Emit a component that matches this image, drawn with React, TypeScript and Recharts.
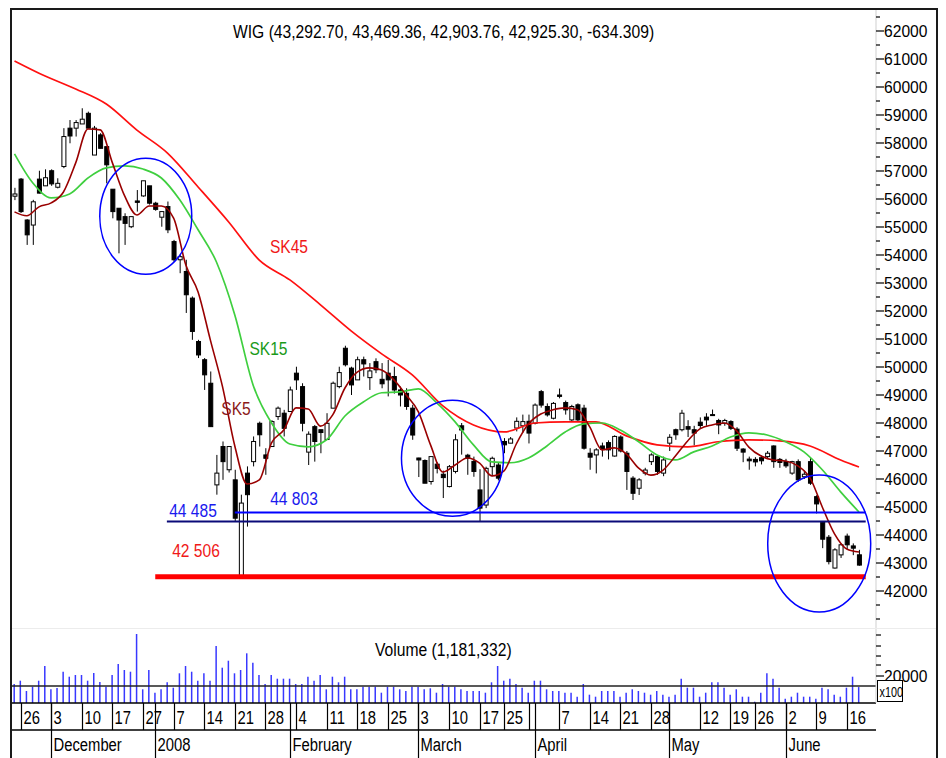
import React from 'react';
import { ComposedChart, Bar, Line, XAxis, YAxis, ReferenceLine, ReferenceDot } from 'recharts';

const FONT = '"Liberation Sans", Arial, Helvetica, sans-serif';

// ---- daily OHLC, WIG, 23 Nov 2007 .. 18 Jun 2008 (trading-day index 0..138) ----
const OPEN = [
  56100, 56710, 55250, 55070, 56710, 56470, 57010, 56420, 57160, 58530,
  58530, 58680, 59060, 57570, 58290, 57870, 56350, 55670, 55370, 55010,
  55930, 56110, 56470, 55850, 55350, 55730, 54480, 53830, 53410, 52460,
  50910, 50260, 49420, 45790, 47160, 46330, 45970, 42550, 46210, 46620,
  47990, 46860, 47160, 48230, 48350, 48410, 49780, 49300, 46960, 47870,
  47760, 47410, 48530, 49300, 50670, 49960, 49540, 50260, 49620, 50190,
  49560, 49780, 49660, 49180, 49060, 48530, 46750, 46660, 45910, 46530,
  46170, 45730, 46270, 47900, 46850, 46630, 45610, 45070, 46440, 46500,
  47340, 47280, 47820, 47900, 48060, 47990, 49120, 48590, 48170, 49000,
  48730, 48110, 48650, 48530, 46920, 46860, 47180, 47300, 46820, 47500,
  46920, 46030, 45670, 46210, 46620, 46800, 46210, 47280, 47760, 47760,
  47870, 47760, 48030, 48210, 48300, 48090, 47990, 48050, 47780, 47070,
  46710, 46700, 46760, 46800, 47180, 46700, 46620, 46210, 46620, 46080,
  46620, 45370, 44450, 43920, 42820, 43290, 43960, 43610, 43292.7,
];
const HIGH = [
  56400, 56750, 55280, 55970, 57010, 57060, 57060, 56740, 58530, 58820,
  58820, 59240, 59120, 58610, 58350, 57870, 56350, 55670, 55490, 55370,
  56320, 56650, 56470, 55900, 55550, 55910, 54540, 54000, 53830, 52520,
  50970, 50320, 49840, 46860, 47340, 47160, 46330, 45440, 46450, 47520,
  48050, 47100, 48100, 48590, 48470, 49300, 50010, 49420, 47700, 47930,
  47760, 48350, 49480, 50010, 50760, 50010, 50370, 50370, 50140, 50310,
  50140, 50250, 50010, 49300, 49240, 48650, 46760, 46700, 46800, 46600,
  46300, 46500, 47600, 48000, 46900, 46800, 46350, 46440, 46800, 46600,
  47460, 47500, 48200, 48300, 48300, 48700, 49180, 48700, 48750, 49230,
  48800, 48650, 48700, 48650, 47100, 47100, 47300, 47380, 47560, 47560,
  47000, 46100, 46030, 46400, 46920, 46860, 46800, 47600, 47800, 48470,
  48100, 47900, 48200, 48350, 48480, 48150, 48150, 48100, 47850, 47100,
  46800, 46780, 46840, 47000, 47200, 46750, 46720, 46650, 46700, 46300,
  46750, 45420, 44500, 44000, 43530, 43700, 44050, 43700, 43469.36,
];
const LOW = [
  55960, 55500, 54360, 54360, 56200, 56470, 56470, 56380, 57100, 57990,
  58230, 58680, 58530, 57570, 57810, 56560, 55310, 54060, 54360, 54960,
  55550, 56080, 55800, 55580, 55010, 54780, 53760, 53350, 51930, 50970,
  50320, 49180, 47870, 45440, 45970, 46230, 44485, 42506, 44300, 46450,
  47160, 46150, 47160, 48110, 47520, 48410, 49180, 47700, 46500, 46620,
  46920, 47400, 48530, 49240, 50020, 49000, 49540, 49660, 49180, 49780,
  49240, 48950, 49050, 48590, 48470, 47400, 46070, 45850, 45800, 46200,
  45320, 45700, 46200, 46870, 46150, 46080, 44480, 44960, 46100, 45950,
  46920, 47280, 47700, 47650, 47270, 47950, 48550, 48230, 48130, 48880,
  48300, 48050, 48050, 47050, 46330, 46200, 46800, 46700, 46800, 46950,
  45610, 45250, 45430, 46130, 46500, 46150, 46100, 47000, 47400, 47700,
  47500, 47200, 47800, 47900, 48250, 47600, 47900, 47750, 47000, 46600,
  46330, 46450, 46520, 46720, 46400, 46400, 46400, 46150, 45900, 46000,
  45790, 44770, 43530, 42950, 42800, 43180, 43500, 43280, 42903.76,
];
const CLOSE = [
  56180, 55550, 54720, 55900, 56210, 56760, 56540, 56560, 58230, 58250,
  58730, 58850, 58530, 58530, 57810, 57220, 55550, 55250, 55130, 55370,
  55880, 56650, 55850, 55630, 55550, 54900, 53830, 53940, 52580, 51270,
  50430, 49720, 47870, 46210, 46620, 47160, 44600, 45140, 45440, 47340,
  47580, 46740, 48050, 48530, 47810, 49180, 49540, 47990, 47600, 47340,
  47660, 47990, 49420, 49800, 50080, 49360, 50260, 50110, 49860, 49900,
  49400, 49540, 49180, 49000, 48590, 47570, 46680, 45850, 46800, 46380,
  46050, 46440, 47400, 47750, 46740, 46270, 44960, 46380, 46740, 46030,
  47220, 47430, 48060, 48050, 47640, 48640, 48640, 48290, 48700, 48950,
  48470, 48590, 48110, 47100, 46780, 47040, 47060, 47040, 47520, 47000,
  46270, 45490, 45970, 46320, 46860, 46270, 46680, 47490, 47580, 48350,
  47780, 47640, 47910, 48110, 48280, 47930, 48090, 47810, 47100, 46960,
  46650, 46610, 46650, 46920, 46620, 46590, 46470, 46620, 45970, 46170,
  45850, 45110, 43850, 43050, 43470, 43650, 43650, 43530, 42925.3,
];
// volume in thousands of shares
const VOLUME = [
  1407, 1652, 889, 1207, 1652, 2741, 1015, 1111, 2318, 1948,
  2074, 2074, 1652, 2222, 1556, 1207, 2074, 2889, 2444, 2318,
  5111, 1015, 2444, 763, 1015, 1533, 1133, 2200, 2741, 2318,
  1652, 2200, 1652, 4222, 2615, 3133, 2200, 2444, 3681, 2985,
  2074, 1407, 2074, 1800, 1800, 1800, 1407, 1407, 1948, 1652,
  2074, 1015, 1948, 1533, 1948, 1015, 1015, 1207, 1207, 1207,
  763, 1207, 1207, 1015, 889, 1207, 1207, 1015, 1089, 763,
  1407, 1207, 1207, 1015, 889, 889, 889, 763, 1533, 2741,
  1652, 1800, 1407, 1133, 763, 1652, 1652, 1015, 889, 889,
  763, 763, 467, 1407, 615, 467, 889, 889, 889, 467,
  763, 1015, 889, 763, 615, 889, 615, 467, 615, 1800,
  1133, 1133, 467, 763, 1533, 1533, 1133, 615, 1015, 467,
  467, 96, 763, 2200, 1800, 1133, 319, 467, 763, 467,
  467, 319, 1133, 1015, 615, 467, 1133, 1948, 1181,
];
const VOLUME_GUIDE = 1259;

const SK5_IDX = [
  0, 2, 4, 6, 8, 10, 12, 14, 16, 18, 20, 22, 24, 26, 28, 30, 32, 34, 36, 38,
  40, 42, 44, 46, 48, 50, 52, 54, 56, 58, 60, 62, 64, 66, 68, 70, 72, 74, 76, 78,
  80, 82, 84, 86, 88, 90, 92, 94, 96, 98, 100, 102, 104, 106, 108, 110, 112, 114, 116, 118,
  120, 122, 124, 126, 128, 130, 132, 134, 136, 138,
];
const SK5 = [
  55540, 55400, 55720, 55860, 56250, 57290, 58500, 58470, 57290, 56110,
  55430, 55750, 55750, 55320, 53640, 52680, 50970, 49290, 47180, 45820,
  45970, 47290, 47750, 48540, 48500, 47890, 48290, 49250, 49820, 49970,
  49890, 49540, 49000, 48400, 47210, 46250, 46500, 46750, 46570, 46110,
  46290, 47250, 47970, 48320, 48470, 48540, 48470, 47860, 47040, 47110,
  46890, 46390, 46140, 46320, 46820, 47360, 47790, 47930, 48000, 47720,
  47140, 46820, 46680, 46640, 46470, 46040, 45000, 44040, 43500, 43390,
];
const SK15_IDX = [
  0, 3, 6, 9, 12, 15, 18, 21, 24, 27, 30, 33, 36, 39, 42, 45, 48, 51, 54, 57,
  60, 63, 66, 69, 72, 75, 78, 81, 84, 87, 90, 93, 96, 99, 102, 105, 108, 111, 114, 117,
  120, 123, 126, 129, 132, 135, 138,
];
const SK15 = [
  57610, 56570, 56040, 56180, 56750, 57110, 57180, 57070, 56750, 55970,
  54900, 53750, 51860, 49350, 48000, 47250, 47150, 47400, 48250, 48750,
  49080, 49110, 49220, 48720, 48040, 47220, 46610, 46580, 46750, 47180,
  47680, 47970, 48000, 47750, 47330, 46860, 46680, 46970, 47180, 47500,
  47650, 47570, 47330, 46970, 46330, 45540, 44820,
];
const SK45_IDX = [
  0, 5, 10, 15, 20, 25, 30, 35, 40, 45, 50, 55, 60, 65, 70, 75, 80, 85, 90, 95,
  100, 105, 110, 115, 120, 125, 130, 135, 138,
];
const SK45 = [
  60930, 60390, 59930, 59390, 58460, 57640, 56430, 55180, 53820, 53110,
  52220, 51290, 50470, 49720, 48610, 47930, 47680, 48000, 48040, 48040,
  47540, 47220, 47150, 47330, 47400, 47360, 47180, 46680, 46430,
];

// x-axis: weekly ticks and month starts (trading-day indices)
const DAY_TICK_IDX = [1, 6, 11, 16, 21, 26, 31, 36, 41, 46, 51, 56, 61, 66, 71, 76, 80, 84, 89, 94, 99, 104, 107, 112, 117, 121, 126, 131, 136];
const DAY_LABELS = ['26', '3', '10', '17', '27', '7', '14', '21', '28', '4', '11', '18', '25', '3', '10', '17', '25', '', '7', '14', '21', '28', '', '12', '19', '26', '2', '9', '16'];
const MONTH_IDX = [6, 23, 45, 66, 85, 107, 126];
const MONTH_LABELS = ['December', '2008', 'February', 'March', 'April', 'May', 'June'];

// y-axis ticks
const PRICE_LABEL_TICKS = [42000, 43000, 44000, 45000, 46000, 47000, 48000, 49000, 50000, 51000, 52000, 53000, 54000, 55000, 56000, 57000, 58000, 59000, 60000, 61000, 62000];
const PRICE_MINOR_TICKS = [41000, 41500, 42500, 43500, 44500, 45500, 46500, 47500, 48500, 49500, 50500, 51500, 52500, 53500, 54500, 55500, 56500, 57500, 58500, 59500, 60500, 61500, 62500];
const VOL_TICKS = [2000, 2815, 3481, 4222, 5037];
const VOL_TICK_LABELS = ['20000', '', '', '', ''];

// support levels and annotations
const LEVELS = [
  { value: 44485, from: 24.9, to: 139.1, color: '#0a0a78', width: 2 },
  { value: 44803, from: 36.0, to: 139.1, color: '#0000ff', width: 2 },
  { value: 42506, from: 23.0, to: 139.1, color: '#ff0000', width: 5 },
];
const ELLIPSES = [
  { i: 21.45, p: 55382, rx: 46, ry: 58 },
  { i: 71.57, p: 46739, rx: 51, ry: 58 },
  { i: 131.5, p: 43696, rx: 51.5, ry: 68.5 },
];
const NOTES = [
  { i: 44.85, p: 54071, text: 'SK45', color: '#f01818' },
  { i: 41.5, p: 50429, text: 'SK15', color: '#1a9a1a' },
  { i: 36.19, p: 48286, text: 'SK5', color: '#8b1a1a' },
  { i: 29.17, p: 44650, text: '44 485', color: '#1a1aee' },
  { i: 45.67, p: 45070, text: '44 803', color: '#1a1aee' },
  { i: 29.66, p: 43214, text: '42 506', color: '#f01818' },
];

const X_DOMAIN: [number, number] = [-0.4085, 140.78];
const P_DOMAIN: [number, number] = [40678.6, 62821.4];
const V_DOMAIN: [number, number] = [0, 5556];

const pick = (idx: number[], vals: number[], i: number) => {
  const k = idx.indexOf(i);
  return k >= 0 ? vals[k] : null;
};

const rows = OPEN.map((o, i) => ({
  i,
  o,
  h: HIGH[i],
  l: LOW[i],
  c: CLOSE[i],
  v: VOLUME[i],
  sk5: pick(SK5_IDX, SK5, i),
  sk15: pick(SK15_IDX, SK15, i),
  sk45: pick(SK45_IDX, SK45, i),
}));

const X_TICKS = Array.from(new Set([...DAY_TICK_IDX, ...MONTH_IDX])).sort((a, b) => a - b);

const SText = ({ x, y, size, sx, fill = '#000', anchor = 'start', children }: any) => (
  <text
    transform={`translate(${x},${y}) scale(${sx},1)`}
    fontSize={size}
    fontFamily={FONT}
    fill={fill}
    textAnchor={anchor}
  >
    {children}
  </text>
);

const Candle = (p: any) => {
  const d = p.payload ?? p;
  if (p.y == null || p.height == null) return null;
  const top = Math.min(p.y, p.y + p.height);
  const hgt = Math.abs(p.height);
  const range = d.h - d.l;
  const ys = (val: number) => (range > 0 ? top + ((d.h - val) / range) * hgt : top);
  const cx = p.x + p.width / 2;
  const yo = ys(d.o);
  const yc = ys(d.c);
  const up = d.c >= d.o;
  const bt = Math.min(yo, yc);
  const bh = Math.max(1, Math.abs(yc - yo));
  return (
    <g>
      <line x1={cx} x2={cx} y1={top} y2={top + hgt} stroke="#000" strokeWidth={1} />
      <rect x={cx - 2} y={bt} width={4} height={bh} fill={up ? '#fff' : '#000'} stroke="#000" strokeWidth={1} />
    </g>
  );
};

const PriceTick = (p: any) => {
  const v = p.payload.value;
  const major = PRICE_LABEL_TICKS.includes(v);
  return (
    <g>
      <line x1={p.x} x2={p.x + (major ? 8 : 4)} y1={p.y} y2={p.y} stroke="#000" strokeWidth={1.2} />
      {major && (
        <SText x={p.x + 8} y={p.y + 6} size={17} sx={0.92}>
          {String(v)}
        </SText>
      )}
    </g>
  );
};

const VolTick = (p: any) => {
  const k = VOL_TICKS.indexOf(p.payload.value);
  const lab = k >= 0 ? VOL_TICK_LABELS[k] : '';
  return (
    <g>
      <line x1={p.x} x2={p.x + (lab ? 8 : 5)} y1={p.y} y2={p.y} stroke="#000" strokeWidth={1.2} />
      {lab && (
        <SText x={p.x + 8} y={p.y + 6} size={17} sx={0.92}>
          {lab}
        </SText>
      )}
    </g>
  );
};

const DateTick = (p: any) => {
  const i = p.payload.value;
  const d = DAY_TICK_IDX.indexOf(i);
  const m = MONTH_IDX.indexOf(i);
  const x = Math.round(p.x) + 0.5;
  const y = p.y;
  return (
    <g>
      {d >= 0 && <line x1={x} x2={x} y1={y} y2={y + 27} stroke="#000" strokeWidth={1.2} />}
      {m >= 0 && <line x1={x} x2={x} y1={y} y2={y + 55} stroke="#000" strokeWidth={1.2} />}
      {d >= 0 && DAY_LABELS[d] !== '' && (
        <SText x={x + 2} y={y + 21} size={19} sx={0.78}>
          {DAY_LABELS[d]}
        </SText>
      )}
      {m >= 0 && (
        <SText x={x + 2} y={y + 48} size={19} sx={0.78}>
          {MONTH_LABELS[m]}
        </SText>
      )}
    </g>
  );
};

export default function App() {
  return (
    <div style={{ position: 'absolute', left: 0, top: 0, width: 946, height: 758, background: '#fff', overflow: 'hidden' }}>
      <div style={{ position: 'absolute', left: 0, top: 0 }}>
        <ComposedChart width={946} height={628} data={rows} margin={{ top: 8, right: 9, bottom: 0, left: 12 }}>
          <XAxis dataKey="i" type="number" domain={X_DOMAIN} allowDataOverflow hide />
          <YAxis
            yAxisId="p"
            orientation="right"
            width={61}
            type="number"
            domain={P_DOMAIN}
            allowDataOverflow
            ticks={[...PRICE_LABEL_TICKS, ...PRICE_MINOR_TICKS]}
            interval={0}
            tick={(t: any) => <PriceTick {...t} />}
            tickLine={false}
            tickSize={0}
            tickMargin={0}
            axisLine={{ stroke: '#cfcfcf' }}
          />
          <Bar
            yAxisId="p"
            dataKey={(d: any) => [d.l, d.h]}
            barSize={5}
            shape={(s: any) => <Candle {...s} />}
            isAnimationActive={false}
          />
          <Line yAxisId="p" dataKey="sk45" type="monotone" connectNulls dot={false} activeDot={false} stroke="#ff1010" strokeWidth={1.7} isAnimationActive={false} />
          <Line yAxisId="p" dataKey="sk15" type="monotone" connectNulls dot={false} activeDot={false} stroke="#3fcf3f" strokeWidth={1.7} isAnimationActive={false} />
          <Line yAxisId="p" dataKey="sk5" type="monotone" connectNulls dot={false} activeDot={false} stroke="#990000" strokeWidth={1.6} isAnimationActive={false} />
          {LEVELS.map((lv, k) => (
            <ReferenceLine
              key={'lv' + k}
              yAxisId="p"
              segment={[{ x: lv.from, y: lv.value }, { x: lv.to, y: lv.value }]}
              stroke={lv.color}
              strokeWidth={lv.width}
            />
          ))}
          {ELLIPSES.map((e, k) => (
            <ReferenceDot
              key={'el' + k}
              yAxisId="p"
              x={e.i}
              y={e.p}
              r={1}
              shape={(s: any) => (
                <ellipse cx={s.cx} cy={s.cy} rx={e.rx} ry={e.ry} fill="none" stroke="#0000ff" strokeWidth={1.5} />
              )}
            />
          ))}
          {NOTES.map((n, k) => (
            <ReferenceDot
              key={'nt' + k}
              yAxisId="p"
              x={n.i}
              y={n.p}
              r={1}
              shape={(s: any) => (
                <SText x={s.cx} y={s.cy} size={19} sx={0.82} fill={n.color} anchor="middle">
                  {n.text}
                </SText>
              )}
            />
          ))}
        </ComposedChart>
      </div>
      <div style={{ position: 'absolute', left: 0, top: 628 }}>
        <ComposedChart width={946} height={130} data={rows} margin={{ top: 0, right: 9, bottom: 0, left: 12 }}>
          <XAxis
            dataKey="i"
            type="number"
            domain={X_DOMAIN}
            allowDataOverflow
            ticks={X_TICKS}
            interval={0}
            height={55}
            tick={(t: any) => <DateTick {...t} />}
            tickLine={false}
            tickSize={0}
            tickMargin={0}
            axisLine={{ stroke: '#000', strokeWidth: 1.4 }}
          />
          <YAxis
            yAxisId="v"
            orientation="right"
            width={61}
            type="number"
            domain={V_DOMAIN}
            allowDataOverflow
            ticks={VOL_TICKS}
            interval={0}
            tick={(t: any) => <VolTick {...t} />}
            tickLine={false}
            tickSize={0}
            tickMargin={0}
            axisLine={{ stroke: '#cfcfcf' }}
          />
          <Bar yAxisId="v" dataKey="v" barSize={1.5} fill="#3838ff" isAnimationActive={false} />
          <ReferenceLine yAxisId="v" y={VOLUME_GUIDE} stroke="#222" strokeWidth={1.5} />
        </ComposedChart>
      </div>
      <svg width={946} height={758} style={{ position: 'absolute', left: 0, top: 0, pointerEvents: 'none' }}>
        <line x1={12} x2={936} y1={628.5} y2={628.5} stroke="#ececec" strokeWidth={1} />
        <line x1={12} x2={876} y1={730} y2={730} stroke="#000" strokeWidth={1.4} />
        <rect x={10} y={8} width={2} height={750} fill="#1a1a1a" />
        <rect x={10} y={8} width={928} height={2} fill="#1a1a1a" />
        <rect x={936} y={8} width={2} height={750} fill="#1a1a1a" />
        <rect x={877.5} y={680.5} width={25} height={21} fill="#fff" stroke="#000" strokeWidth={1} />
        <SText x={879.5} y={697} size={15} sx={0.72}>x100</SText>
        <SText x={233} y={38} size={18} sx={0.87}>
          WIG (43,292.70, 43,469.36, 42,903.76, 42,925.30, -634.309)
        </SText>
        <SText x={375} y={656} size={18} sx={0.87}>
          Volume (1,181,332)
        </SText>
      </svg>
    </div>
  );
}
